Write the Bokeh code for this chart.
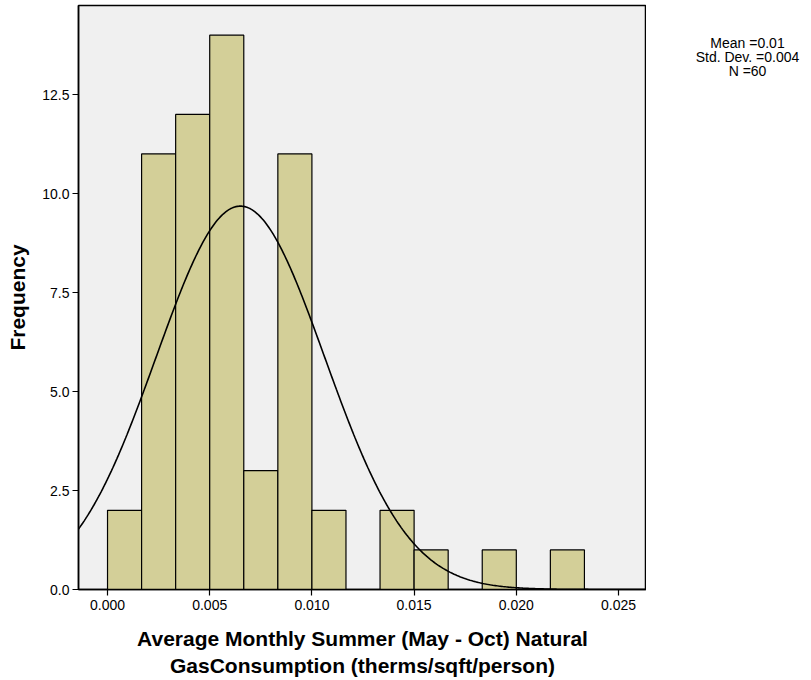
import math
import numpy as np
from bokeh.plotting import figure
from bokeh.layouts import row
from bokeh.models import FixedTicker, PrintfTickFormatter, Range1d
from bokeh.core.properties import value
from bokeh.embed import file_html
from bokeh.resources import INLINE

# Histogram of average monthly summer natural gas consumption
bin_start = 0.0
bin_width = 1.0 / 600.0
counts = [2, 11, 12, 14, 3, 11, 2, 0, 2, 1, 0, 1, 0, 1]

# Fitted normal curve parameters and summary statistics
curve_mean = 0.0065
curve_sd = 0.00412
n_obs = 60
stats_lines = ["Mean =0.01", "Std. Dev. =0.004", "N =60"]

x_ticks = [0.000, 0.005, 0.010, 0.015, 0.020, 0.025]
y_ticks = [0.0, 2.5, 5.0, 7.5, 10.0, 12.5]

FONT = "Liberation Sans"

p = figure(width=646, height=680, output_backend="svg", toolbar_location=None,
           x_range=Range1d(-0.00142, 0.02637), y_range=Range1d(0, 14.75),
           min_border_left=78, min_border_right=0, min_border_top=5,
           min_border_bottom=88)
p.background_fill_color = "#F0F0F0"
p.border_fill_color = "white"
p.outline_line_color = "black"
p.outline_line_width = 1.5
p.grid.visible = False

lefts = [bin_start + i * bin_width for i in range(len(counts))]
rights = [l + bin_width for l in lefts]
keep = [i for i, c in enumerate(counts) if c > 0]
p.quad(left=[lefts[i] for i in keep], right=[rights[i] for i in keep],
       bottom=0, top=[counts[i] for i in keep],
       fill_color="#D3CF98", line_color="black", line_width=1.2)

xs = np.linspace(-0.0015, 0.0265, 400)
scale = n_obs * bin_width / (curve_sd * math.sqrt(2 * math.pi))
ys = scale * np.exp(-0.5 * ((xs - curve_mean) / curve_sd) ** 2)
p.line(xs, ys, line_color="black", line_width=1.6)

for ax in (p.xaxis[0], p.yaxis[0]):
    ax.axis_line_color = "black"
    ax.axis_line_width = 1.5
    ax.major_tick_line_color = "black"
    ax.major_tick_line_width = 1.2
    ax.major_tick_out = 6
    ax.major_tick_in = 0
    ax.minor_tick_line_color = None
    ax.major_label_text_font = FONT
    ax.major_label_text_font_size = "14px"
    ax.major_label_text_color = "black"
    ax.axis_label_text_font = FONT
    ax.axis_label_text_font_style = "bold"
    ax.axis_label_text_font_size = "21px"
    ax.axis_label_text_color = "black"

p.xaxis.ticker = FixedTicker(ticks=x_ticks)
p.xaxis.formatter = PrintfTickFormatter(format="%.3f")
p.yaxis.ticker = FixedTicker(ticks=y_ticks)
p.yaxis.formatter = PrintfTickFormatter(format="%.1f")
p.xaxis.major_label_standoff = 4
p.yaxis.major_label_standoff = 3
p.xaxis.axis_label = "Average Monthly Summer (May - Oct) Natural\nGasConsumption (therms/sqft/person)"
p.xaxis.axis_label_standoff = 14
p.yaxis.axis_label = "Frequency"
p.yaxis.axis_label_standoff = 10

# Side panel holding the summary statistics
side = figure(width=165, height=680, output_backend="svg", toolbar_location=None,
              x_range=Range1d(0, 165), y_range=Range1d(0, 680),
              min_border=0)
side.axis.visible = False
side.grid.visible = False
side.outline_line_color = None
side.background_fill_color = "white"
side.border_fill_color = "white"
side.text(x=[101] * len(stats_lines),
          y=[636 - i * 16 for i in range(len(stats_lines))],
          text=stats_lines, text_align="center", text_baseline="middle",
          text_font=value(FONT), text_font_size="14px", text_color="black")

layout = row(p, side, spacing=0)
open("out.html", "w").write(file_html(layout, INLINE))
